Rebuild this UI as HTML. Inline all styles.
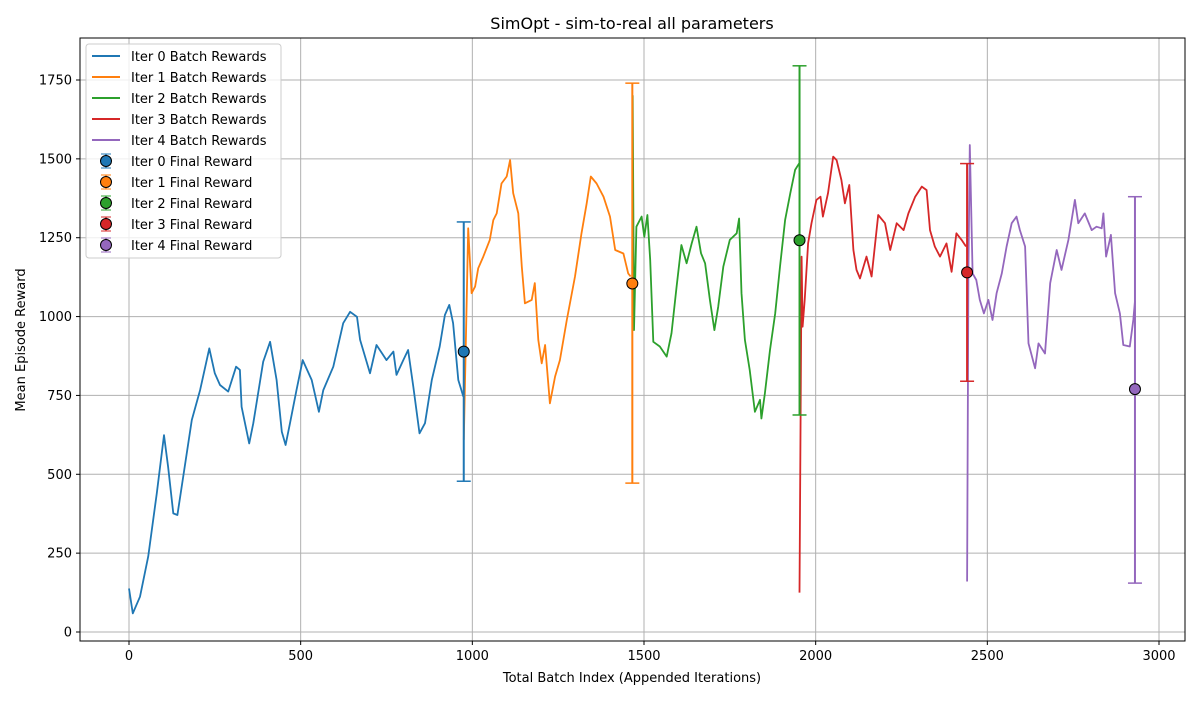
<!DOCTYPE html>
<html><head><meta charset="utf-8"><style>
body{margin:0;background:#fff;font-family:"Liberation Sans","DejaVu Sans",sans-serif}
svg text{font-family:"DejaVu Sans","Liberation Sans",sans-serif}
</style></head><body>
<svg id="chart" width="1200" height="700" xmlns="http://www.w3.org/2000/svg">
<rect width="1200" height="700" fill="#fff"/>
<g id="grid"></g>
<g id="series"></g>
<g id="finals"></g>
<rect x="80" y="38" width="1105" height="603" fill="none" stroke="#000" stroke-width="1"/>
<g id="axes"></g>
<text x="632" y="29" font-size="16" text-anchor="middle">SimOpt - sim-to-real all parameters</text>
<text x="632" y="682" font-size="13" text-anchor="middle">Total Batch Index (Appended Iterations)</text>
<text x="25" y="340" font-size="13" text-anchor="middle" transform="rotate(-90 25 340)">Mean Episode Reward</text>
<g id="legend"></g>
</svg>
<script>
const xTicks=[0,500,1000,1500,2000,2500,3000];
const yTicks=[0,250,500,750,1000,1250,1500,1750];
const seriesNames=["Iter 0","Iter 1","Iter 2","Iter 3","Iter 4"];
const colors=["#1f77b4","#ff7f0e","#2ca02c","#d62728","#9467bd"];
const s0x=[0,11,32,56,81,102,114,129,141,158,183,207,234,250,265,289,312,323,328,350,362,391,411,430,445,456,469,488,506,532,553,566,595,624,644,664,673,702,721,750,770,779,799,813,828,846,862,882,905,920,933,944,959,974];
const s0y=[138,59,112,239,440,624,524,376,371,492,672,767,899,820,783,762,841,831,714,598,662,857,920,799,635,593,662,767,862,799,698,767,841,979,1015,999,926,820,910,862,889,815,862,894,778,630,662,799,905,1005,1037,979,799,746];
const s1x=[975,988,998,1008,1017,1032,1051,1061,1071,1085,1100,1110,1119,1134,1144,1153,1173,1182,1192,1202,1212,1226,1241,1255,1275,1299,1318,1333,1345,1362,1382,1401,1416,1440,1454,1461];
const s1y=[609,1280,1074,1095,1153,1190,1243,1306,1327,1422,1444,1496,1391,1327,1158,1042,1053,1106,926,852,910,725,810,862,989,1127,1264,1359,1444,1422,1380,1317,1211,1200,1137,1127];
const s2x=[1466,1467,1471,1478,1493,1501,1510,1518,1527,1546,1566,1580,1595,1609,1624,1639,1653,1666,1678,1692,1705,1716,1731,1750,1770,1777,1784,1794,1808,1823,1838,1842,1852,1867,1882,1896,1911,1926,1940,1952];
const s2y=[1127,1700,957,1285,1317,1253,1322,1179,920,905,873,947,1095,1227,1169,1232,1285,1201,1169,1053,957,1031,1158,1243,1264,1311,1074,926,831,698,736,677,757,894,1010,1158,1306,1391,1465,1486];
const s3x=[1953,1959,1962,1968,1978,1988,2002,2014,2021,2036,2051,2061,2075,2085,2098,2110,2119,2129,2148,2163,2182,2202,2217,2236,2256,2270,2290,2309,2323,2333,2347,2362,2381,2396,2410,2425,2438];
const s3y=[125,1190,968,1053,1232,1296,1370,1380,1317,1391,1507,1496,1433,1359,1417,1211,1148,1121,1190,1127,1322,1296,1211,1296,1274,1327,1380,1412,1401,1274,1222,1190,1232,1142,1264,1243,1222];
const s4x=[2441,2445,2449,2457,2468,2478,2490,2503,2515,2527,2542,2556,2571,2585,2595,2610,2620,2639,2649,2668,2683,2702,2716,2736,2755,2765,2784,2804,2818,2833,2838,2846,2860,2872,2886,2896,2915,2925,2930];
const s4y=[160,1137,1544,1137,1116,1053,1010,1053,989,1074,1137,1222,1296,1317,1274,1222,915,836,915,883,1106,1211,1148,1243,1370,1296,1327,1274,1285,1280,1327,1190,1259,1074,1010,910,905,989,1050];
const finalX=[975,1466,1953,2441,2930];
const finalY=[889,1105,1242,1140,770];
const errLow=[478,472,688,795,155];
const errHigh=[1300,1740,1795,1485,1380];

const NS="http://www.w3.org/2000/svg";
const X=v=>129+v*(1030/3000);
const Y=v=>632-v*(552/1750);
function mk(tag,attrs,parent){const e=document.createElementNS(NS,tag);for(const k in attrs)e.setAttribute(k,attrs[k]);parent.appendChild(e);return e;}
const grid=document.getElementById('grid'),axes=document.getElementById('axes');
xTicks.forEach(t=>{
  const l=mk('line',{x1:X(t),x2:X(t),y1:38,y2:641,stroke:'#b0b0b0','stroke-width':1},grid);
  
  
  mk('line',{x1:X(t),x2:X(t),y1:641,y2:645,stroke:'#000'},axes);
  const tx=mk('text',{x:X(t),y:660,'font-size':13,'text-anchor':'middle'},axes);tx.textContent=t;
  
  
});
yTicks.forEach(t=>{
  const l=mk('line',{x1:80,x2:1185,y1:Y(t),y2:Y(t),stroke:'#b0b0b0','stroke-width':1},grid);
  
  
  mk('line',{x1:76,x2:80,y1:Y(t),y2:Y(t),stroke:'#000'},axes);
  const tx=mk('text',{x:72,y:Y(t)+4.5,'font-size':13,'text-anchor':'end'},axes);tx.textContent=t;
  
  
});
const SX=[s0x,s1x,s2x,s3x,s4x],SY=[s0y,s1y,s2y,s3y,s4y];
const sg=document.getElementById('series');
SX.forEach((xs,i)=>{
  const pts=xs.map((x,j)=>X(x).toFixed(1)+','+Y(SY[i][j]).toFixed(1)).join(' ');
  const p=mk('polyline',{points:pts,fill:'none',stroke:colors[i],'stroke-width':1.8,'stroke-linejoin':'round'},sg);
  
  
});
const fg=document.getElementById('finals');
finalX.forEach((x,i)=>{
  const g=mk('g',{},fg);
  
  
  const cx=X(x);
  mk('line',{x1:cx,x2:cx,y1:Y(errLow[i]),y2:Y(errHigh[i]),stroke:colors[i],'stroke-width':2},g);
  mk('line',{x1:cx-7,x2:cx+7,y1:Y(errLow[i]),y2:Y(errLow[i]),stroke:colors[i],'stroke-width':1.5},g);
  mk('line',{x1:cx-7,x2:cx+7,y1:Y(errHigh[i]),y2:Y(errHigh[i]),stroke:colors[i],'stroke-width':1.5},g);
  mk('circle',{cx:cx,cy:Y(finalY[i]),r:5.5,fill:colors[i],stroke:'#000','stroke-width':1},g);
});
const lg=document.getElementById('legend');
mk('rect',{x:86,y:44,width:195,height:214,rx:3,fill:'#fff','fill-opacity':0.8,stroke:'#ccc'},lg);
seriesNames.forEach((n,i)=>{
  const y=56+i*21;
  const e=mk('g',{},lg);
  
  
  mk('line',{x1:92,x2:120,y1:y,y2:y,stroke:colors[i],'stroke-width':2},e);
  const t=mk('text',{x:131,y:y+5,'font-size':13},e);t.textContent=n+' Batch Rewards';
});
seriesNames.forEach((n,i)=>{
  const y=161+i*21;
  const e=mk('g',{},lg);
  
  
  mk('line',{x1:106,x2:106,y1:y-7,y2:y+7,stroke:colors[i],'stroke-width':1.5},e);
  mk('line',{x1:101,x2:111,y1:y-7,y2:y-7,stroke:colors[i],'stroke-width':1},e);
  mk('line',{x1:101,x2:111,y1:y+7,y2:y+7,stroke:colors[i],'stroke-width':1},e);
  mk('circle',{cx:106,cy:y,r:5.5,fill:colors[i],stroke:'#000','stroke-width':1},e);
  const t=mk('text',{x:131,y:y+5,'font-size':13},e);t.textContent=n+' Final Reward';
});
</script>
</body></html>
